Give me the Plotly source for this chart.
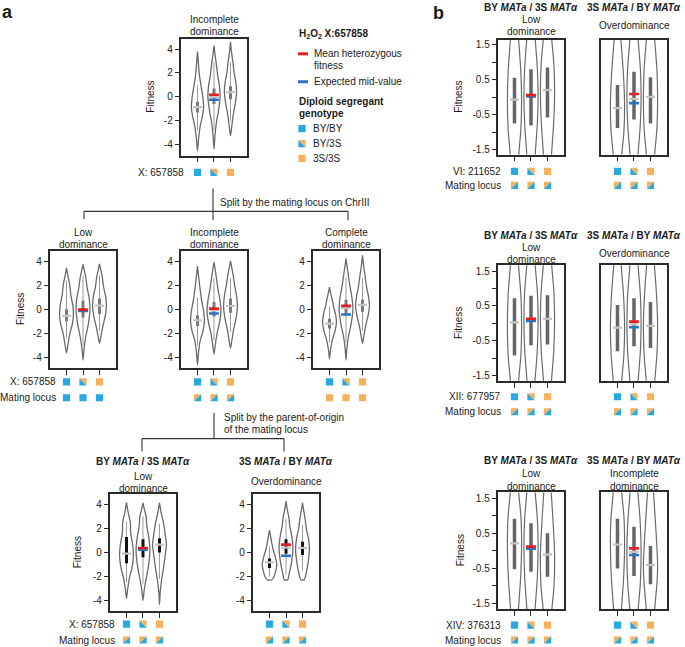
import plotly.graph_objects as go

W, H = 685, 647
FONT = "Liberation Sans, Arial, Helvetica, sans-serif"

genotypes = ["BY/BY", "BY/3S", "3S/3S"]
cats = [1, 2, 3]

PANELS = ["a_top", "a_low", "a_inc", "a_comp", "a_bmat", "a_3smat",
          "b6_l", "b6_r", "b12_l", "b12_r", "b14_l", "b14_r"]

# ---- violin outline profiles (fitness level, relative density width) ----
prof_y = {
    "a_top": [[-4.5, -3.5, -2.5, -1.6, -0.9, -0.2, 0.8, 1.8, 2.8, 3.8],
              [-4.35, -3.3, -2.2, -1.1, 0.0, 0.9, 1.8, 2.6, 3.5, 4.3],
              [-3.25, -2.5, -1.5, -0.5, 0.4, 1.2, 2.0, 2.8, 3.7, 4.6]],
    "a_low": [[-3.65, -3.0, -2.0, -1.2, -0.5, 0.3, 1.2, 2.1, 2.8, 3.45],
              [-4.25, -3.3, -2.3, -1.2, -0.1, 0.9, 1.8, 2.6, 3.2, 3.75],
              [-2.85, -2.2, -1.4, -0.5, 0.3, 1.1, 1.9, 2.7, 3.3, 3.8]],
    "a_inc": [[-4.65, -3.6, -2.6, -1.8, -1.0, -0.2, 0.8, 1.8, 2.8, 3.6],
              [-3.75, -3.0, -2.0, -1.1, -0.2, 0.7, 1.6, 2.4, 3.3, 3.95],
              [-3.25, -2.6, -1.7, -0.7, 0.25, 1.1, 2.0, 2.8, 3.5, 4.05]],
    "a_comp": [[-4.15, -3.4, -2.6, -1.8, -1.1, -0.5, 0.2, 0.9, 1.4, 1.85],
               [-4.25, -3.3, -2.3, -1.2, 0.0, 1.0, 2.0, 2.8, 3.6, 4.25],
               [-2.85, -2.2, -1.4, -0.5, 0.3, 1.1, 2.0, 2.9, 3.7, 4.5]],
    "a_bmat": [[-3.85, -3.0, -2.2, -1.2, -0.2, 0.8, 1.6, 2.5, 3.4, 4.2],
               [-4.0, -3.1, -2.2, -1.1, 0.3, 1.3, 2.2, 3.0, 3.6, 4.15],
               [-4.35, -3.3, -2.3, -1.2, 0.0, 0.7, 1.6, 2.4, 3.3, 4.15]],
    "a_3smat": [[-2.3, -2.3, -2.0, -1.5, -1.0, -0.4, 0.2, 0.8, 1.4, 1.87],
                [-2.3, -2.3, -1.8, -0.8, 0.4, 1.3, 2.2, 2.9, 3.6, 4.3],
                [-2.3, -2.3, -1.8, -0.8, 0.3, 1.2, 2.0, 2.7, 3.5, 4.15]],
    "b6_l": [[-2.4, -1.6, -0.9, -0.1, 0.7, 1.6, 2.4],
             [-2.4, -1.6, -0.8, 0.0, 0.8, 1.6, 2.4],
             [-2.4, -1.6, -0.7, 0.2, 1.0, 1.6, 2.4]],
    "b6_r": [[-2.4, -1.6, -1.0, -0.3, 0.5, 1.6, 2.4],
             [-2.4, -1.6, -0.8, 0.0, 0.8, 1.6, 2.4],
             [-2.4, -1.6, -0.9, 0.0, 0.8, 1.6, 2.4]],
    "b12_l": [[-2.4, -1.6, -0.9, 0.0, 0.8, 1.6, 2.4],
              [-2.4, -1.6, -0.8, 0.1, 0.9, 1.6, 2.4],
              [-2.4, -1.6, -0.8, 0.1, 0.9, 1.6, 2.4]],
    "b12_r": [[-2.4, -1.6, -0.9, -0.1, 0.7, 1.6, 2.4],
              [-2.4, -1.6, -0.8, 0.0, 0.8, 1.6, 2.4],
              [-2.4, -1.6, -0.9, -0.1, 0.7, 1.6, 2.4]],
    "b14_l": [[-2.4, -1.6, -0.7, 0.2, 1.0, 1.6, 2.4],
              [-2.4, -1.6, -0.8, 0.1, 0.9, 1.6, 2.4],
              [-2.4, -1.6, -1.0, -0.1, 0.6, 1.6, 2.4]],
    "b14_r": [[-2.4, -1.6, -0.7, 0.2, 1.0, 1.6, 2.4],
              [-2.4, -1.6, -0.9, 0.0, 0.8, 1.6, 2.4],
              [-2.4, -1.6, -0.9, -0.4, 0.3, 1.6, 2.4]],
}
prof_w = {
    "a_top": [[0, 0.18, 0.42, 0.8, 1.0, 0.92, 0.62, 0.32, 0.15, 0],
              [0, 0.15, 0.38, 0.75, 1.0, 0.9, 0.6, 0.42, 0.18, 0],
              [0, 0.2, 0.45, 0.8, 1.0, 0.88, 0.6, 0.42, 0.18, 0]],
    "a_low": [[0, 0.2, 0.5, 0.85, 1.0, 0.92, 0.62, 0.45, 0.2, 0],
              [0, 0.15, 0.4, 0.78, 1.0, 0.9, 0.6, 0.42, 0.2, 0],
              [0, 0.22, 0.5, 0.85, 1.0, 0.88, 0.58, 0.4, 0.18, 0]],
    "a_inc": [[0, 0.15, 0.4, 0.8, 1.0, 0.9, 0.58, 0.35, 0.15, 0],
              [0, 0.18, 0.45, 0.8, 1.0, 0.88, 0.6, 0.4, 0.18, 0],
              [0, 0.2, 0.45, 0.82, 1.0, 0.88, 0.6, 0.4, 0.18, 0]],
    "a_comp": [[0, 0.15, 0.4, 0.8, 1.0, 0.9, 0.6, 0.35, 0.15, 0],
               [0, 0.12, 0.35, 0.75, 1.0, 0.85, 0.55, 0.35, 0.15, 0],
               [0, 0.2, 0.45, 0.82, 1.0, 0.85, 0.55, 0.35, 0.15, 0]],
    "a_bmat": [[0, 0.18, 0.4, 0.82, 1.0, 0.85, 0.6, 0.55, 0.22, 0],
               [0, 0.18, 0.45, 0.8, 1.0, 0.82, 0.55, 0.45, 0.2, 0],
               [0, 0.1, 0.3, 0.6, 0.88, 1.0, 0.8, 0.6, 0.25, 0]],
    "a_3smat": [[0, 0.3, 0.65, 0.92, 1.05, 0.85, 0.55, 0.32, 0.15, 0],
                [0, 0.25, 0.45, 0.8, 1.0, 0.85, 0.55, 0.42, 0.18, 0],
                [0, 0.25, 0.5, 0.82, 1.0, 0.85, 0.55, 0.4, 0.18, 0]],
    "b6_l": [[0.35, 0.62, 0.9, 1.0, 0.9, 0.6, 0.35],
             [0.35, 0.6, 0.88, 1.0, 0.9, 0.62, 0.35],
             [0.32, 0.58, 0.88, 1.0, 0.88, 0.62, 0.35]],
    "b6_r": [[0.35, 0.62, 0.9, 1.0, 0.88, 0.5, 0.25],
             [0.32, 0.58, 0.88, 1.0, 0.9, 0.6, 0.32],
             [0.3, 0.6, 0.9, 1.0, 0.9, 0.6, 0.3]],
    "b12_l": [[0.32, 0.6, 0.9, 1.0, 0.9, 0.6, 0.32],
              [0.32, 0.58, 0.88, 1.0, 0.9, 0.62, 0.35],
              [0.32, 0.58, 0.88, 1.0, 0.9, 0.62, 0.35]],
    "b12_r": [[0.35, 0.62, 0.9, 1.0, 0.88, 0.55, 0.28],
              [0.32, 0.6, 0.9, 1.0, 0.9, 0.6, 0.32],
              [0.35, 0.62, 0.9, 1.0, 0.88, 0.58, 0.3]],
    "b14_l": [[0.3, 0.58, 0.88, 1.0, 0.9, 0.62, 0.35],
              [0.32, 0.6, 0.88, 1.0, 0.9, 0.62, 0.33],
              [0.35, 0.65, 0.92, 1.0, 0.85, 0.55, 0.28]],
    "b14_r": [[0.3, 0.58, 0.88, 1.0, 0.9, 0.62, 0.35],
              [0.33, 0.62, 0.9, 1.0, 0.88, 0.58, 0.3],
              [0.35, 0.62, 0.92, 1.0, 0.85, 0.45, 0.25]],
}

# ---- summary statistics (per genotype) ----
box_lo = {"a_top": [-1.3, -0.6, -0.2], "a_low": [-1.0, -0.7, -0.4],
          "a_inc": [-1.4, -0.6, -0.3], "a_comp": [-1.6, -0.5, -0.2],
          "a_bmat": [-0.9, -0.4, 0.0], "a_3smat": [-1.3, -0.1, -0.2],
          "b6_l": [-0.75, -0.81, -0.58], "b6_r": [-0.88, -0.64, -0.75],
          "b12_l": [-0.92, -0.63, -0.61], "b12_r": [-0.8, -0.66, -0.71],
          "b14_l": [-0.53, -0.6, -0.74], "b14_r": [-0.51, -0.72, -0.96]}
box_hi = {"a_top": [-0.4, 0.7, 0.9], "a_low": [0.0, 0.7, 0.9],
          "a_inc": [-0.5, 0.6, 0.9], "a_comp": [-0.8, 0.8, 0.8],
          "a_bmat": [1.3, 1.1, 1.2], "a_3smat": [-0.5, 1.1, 0.9],
          "b6_l": [0.56, 0.8, 0.85], "b6_r": [0.35, 0.73, 0.57],
          "b12_l": [0.72, 0.79, 0.81], "b12_r": [0.53, 0.72, 0.61],
          "b14_l": [0.92, 0.79, 0.5], "b14_r": [0.92, 0.69, 0.14]}
whisk_lo = {"a_top": [-2.8, -2.8, -2.0], "a_low": [-2.4, -3.0, -1.8],
            "a_inc": [-3.0, -2.6, -1.9], "a_comp": [-2.8, -2.8, -1.8],
            "a_bmat": [-2.5, -2.6, -2.2], "a_3smat": [-2.0, -1.8, -1.5]}
whisk_hi = {"a_top": [1.0, 2.9, 2.9], "a_low": [2.4, 2.8, 2.8],
            "a_inc": [1.0, 2.6, 2.6], "a_comp": [0.2, 2.7, 2.6],
            "a_bmat": [2.6, 3.0, 2.4], "a_3smat": [0.5, 2.8, 2.3]}
median_fit = {"a_top": [-0.86, 0.0, 0.4], "a_low": [-0.56, -0.1, 0.3],
              "a_inc": [-0.92, -0.1, 0.27], "a_comp": [-1.2, 0.1, 0.36],
              "a_bmat": [-0.1, 0.3, 0.66], "a_3smat": [-0.83, 0.4, 0.38],
              "b6_l": [-0.07, 0.04, 0.2], "b6_r": [-0.31, -0.05, 0.01],
              "b12_l": [0.03, 0.1, 0.13], "b12_r": [-0.12, -0.03, -0.07],
              "b14_l": [0.21, 0.09, -0.11], "b14_r": [0.18, -0.03, -0.41]}
het_mean = {"a_top": 0.18, "a_low": -0.03, "a_inc": 0.05, "a_comp": 0.28,
            "a_bmat": 0.38, "a_3smat": 0.66, "b6_l": 0.06, "b6_r": 0.09,
            "b12_l": 0.13, "b12_r": 0.05, "b14_l": 0.12, "b14_r": 0.07}
mid_value = {"a_top": -0.24, "a_low": -0.15, "a_inc": -0.36, "a_comp": -0.44,
             "a_bmat": 0.24, "a_3smat": -0.27, "b6_l": 0.02, "b6_r": -0.17,
             "b12_l": 0.07, "b12_r": -0.11, "b14_l": 0.06, "b14_r": -0.12}

a_ticks = [4, 2, 0, -2, -4]
a_ticktext = ["4", "2", "0", "-2", "-4"]
b_ticks = [1.5, 0.5, -0.5, -1.5]
b_ticktext = ["1.5", "0.5", "-0.5", "-1.5"]
b_minor_ticks = [1.0, 0.0, -1.0]

# genotype icon rows below each panel
locus_icons = ["BY", "HET", "3S"]
mating_icons = {"a_low": ["BY", "BY", "BY"], "a_inc": ["MAT"] * 3,
                "a_comp": ["3S", "3S", "3S"], "a_bmat": ["MAT"] * 3,
                "a_3smat": ["MAT"] * 3, "b6_l": ["MAT"] * 3, "b6_r": ["MAT"] * 3,
                "b12_l": ["MAT"] * 3, "b12_r": ["MAT"] * 3,
                "b14_l": ["MAT"] * 3, "b14_r": ["MAT"] * 3}

# ---------------- layout geometry (pixels) ----------------
GEOM = {"a_top": (214, 38, 155), "a_low": (83, 251, 368), "a_inc": (214, 251, 368),
        "a_comp": (346, 251, 368), "a_bmat": (143, 495, 612), "a_3smat": (286, 495, 612),
        "b6_l": (531, 39, 154), "b6_r": (634, 39, 154),
        "b12_l": (531, 265, 381), "b12_r": (634, 265, 381),
        "b14_l": (531, 493, 610), "b14_r": (634, 493, 610)}
YR = {"a": [-4.9, 4.85], "b6": [-1.64, 1.64], "b12": [-1.65, 1.67], "b14": [-1.67, 1.67]}
UNIT = 16.5
XR = [0.03, 3.97]
VW = {"a_top": 0.37}
ICON_Y1 = {"a_top": 172, "a_low": 382, "a_inc": 382, "a_comp": 382, "a_bmat": 625,
           "a_3smat": 625, "b6_l": 171, "b6_r": 171, "b12_l": 397, "b12_r": 397,
           "b14_l": 626, "b14_r": 626}
ICON_Y2 = {"a_low": 398, "a_inc": 398, "a_comp": 398, "a_bmat": 641, "a_3smat": 641,
           "b6_l": 185, "b6_r": 185, "b12_l": 412, "b12_r": 412, "b14_l": 641, "b14_r": 641}

BLUE_I = "#27A8E0"
ORANGE_I = "#F7B05B"
RED = "#E31E25"
BLUE = "#2B72C2"
OUT = "#6a6a6a"
FS = 10


def xd(px):
    return px / W


def yd(py):
    return 1 - py / H


fig = go.Figure()
layout = dict(width=W, height=H, margin=dict(l=0, r=0, t=0, b=0),
              paper_bgcolor="white", plot_bgcolor="white", showlegend=False,
              font=dict(family=FONT, size=FS, color="#222"))
shapes = []
annotations = []


def txt(s, x, y, anchor="center", size=FS, bold=False):
    annotations.append(dict(text=("<b>%s</b>" % s) if bold else s, x=xd(x), y=yd(y),
                            xref="paper", yref="paper", xanchor=anchor, yanchor="middle",
                            showarrow=False, font=dict(family=FONT, size=size, color="#1a1a1a")))


def icon(kind, xref, xanchor, ypx, s=3.6):
    base = dict(xref=xref, xsizemode="pixel", xanchor=xanchor, yref="paper",
                ysizemode="pixel", yanchor=yd(ypx), line=dict(width=0), layer="above")
    if kind in ("BY", "3S"):
        c = BLUE_I if kind == "BY" else ORANGE_I
        shapes.append(dict(base, type="path", fillcolor=c,
                           path="M%.1f,%.1f L%.1f,%.1f L%.1f,%.1f L%.1f,%.1f Z" % (-s, -s, s, -s, s, s, -s, s)))
    elif kind == "HET":
        shapes.append(dict(base, type="path", fillcolor=BLUE_I,
                           path="M%.1f,%.1f L%.1f,%.1f L%.1f,%.1f Z" % (-s, -s, s, -s, -s, s)))
        shapes.append(dict(base, type="path", fillcolor=ORANGE_I,
                           path="M%.1f,%.1f L%.1f,%.1f L%.1f,%.1f Z" % (s, s, -s, s, s, -s)))
    else:  # mating locus heterozygote
        shapes.append(dict(base, type="path", fillcolor=ORANGE_I,
                           path="M%.1f,%.1f L%.1f,%.1f L%.1f,%.1f Z" % (-s, s, s, s, -s, -s)))
        shapes.append(dict(base, type="path", fillcolor=BLUE_I,
                           path="M%.1f,%.1f L%.1f,%.1f L%.1f,%.1f Z" % (s, -s, -s, -s, s, s)))


for i, p in enumerate(PANELS):
    n = i + 1
    xa = "xaxis" if n == 1 else "xaxis%d" % n
    ya = "yaxis" if n == 1 else "yaxis%d" % n
    xr = "x" if n == 1 else "x%d" % n
    yr = "y" if n == 1 else "y%d" % n
    cx, top, bot = GEOM[p]
    half = (XR[1] - XR[0]) / 2 * UNIT
    isb = p.startswith("b")
    yrange = YR["a"] if not isb else YR[p.split("_")[0]]
    layout[xa] = dict(domain=[xd(cx - half), xd(cx + half)], range=XR, anchor=yr,
                      showline=True, mirror=True, linecolor="#2a2a2a", linewidth=1.5,
                      ticks="outside", ticklen=5, tickwidth=1, tickcolor="#2a2a2a",
                      tickvals=cats, showticklabels=False, showgrid=False, zeroline=False,
                      fixedrange=True)
    right_b = isb and p.endswith("_r")
    yax = dict(domain=[yd(bot), yd(top)], range=yrange, anchor=xr,
               showline=True, mirror=True, linecolor="#2a2a2a", linewidth=1.5,
               ticks="" if right_b else "outside", ticklen=5, tickwidth=1,
               tickcolor="#2a2a2a",
               tickvals=b_ticks if isb else a_ticks,
               ticktext=b_ticktext if isb else a_ticktext,
               showticklabels=not right_b, tickfont=dict(size=FS, color="#222"),
               showgrid=False, zeroline=False, fixedrange=True)
    if isb and not right_b:
        yax["minor"] = dict(tickvals=b_minor_ticks, ticks="outside", ticklen=5,
                            tickwidth=1, tickcolor="#2a2a2a", showgrid=False)
    layout[ya] = yax

    maxw = 0.43 if isb else VW.get(p, 0.42)
    for k in range(3):
        c = cats[k]
        ys = prof_y[p][k]
        ws = prof_w[p][k]
        xs_r = [c + w * maxw for w in ws]
        xs_l = [c - w * maxw for w in ws]
        if isb:
            for xs in (xs_r, xs_l):
                fig.add_trace(go.Scatter(x=xs, y=ys, mode="lines", xaxis=xr, yaxis=yr,
                                         line=dict(color=OUT, width=1.2, shape="spline", smoothing=0.8),
                                         hoverinfo="skip"))
        else:
            fig.add_trace(go.Scatter(x=xs_r + xs_l[::-1], y=ys + ys[::-1], mode="lines",
                                     xaxis=xr, yaxis=yr,
                                     line=dict(color=OUT, width=1.3, shape="spline", smoothing=0.7),
                                     hoverinfo="skip"))
            fig.add_trace(go.Scatter(x=[c, c], y=[whisk_lo[p][k], whisk_hi[p][k]], mode="lines",
                                     xaxis=xr, yaxis=yr, line=dict(color="#9a9a9a", width=1),
                                     hoverinfo="skip"))
        boxcol = "#111111" if p in ("a_bmat", "a_3smat") else ("#666666" if isb else "#7a7a7a")
        fig.add_trace(go.Scatter(x=[c, c], y=[box_lo[p][k], box_hi[p][k]], mode="lines",
                                 xaxis=xr, yaxis=yr, line=dict(color=boxcol, width=3.5 if isb else 3),
                                 hoverinfo="skip"))
        fig.add_trace(go.Scatter(x=[c - 0.28, c + 0.28], y=[median_fit[p][k]] * 2, mode="lines",
                                 xaxis=xr, yaxis=yr, line=dict(color="#c4c4c4", width=2.2),
                                 hoverinfo="skip"))
    fig.add_trace(go.Scatter(x=[1.7, 2.3], y=[mid_value[p]] * 2, mode="lines", xaxis=xr, yaxis=yr,
                             line=dict(color=BLUE, width=2.6), hoverinfo="skip"))
    fig.add_trace(go.Scatter(x=[1.7, 2.3], y=[het_mean[p]] * 2, mode="lines", xaxis=xr, yaxis=yr,
                             line=dict(color=RED, width=2.6), hoverinfo="skip"))

    for k in range(3):
        icon(locus_icons[k], xr, cats[k], ICON_Y1[p])
        if p in mating_icons:
            icon(mating_icons[p][k], xr, cats[k], ICON_Y2[p])

# ---------------- text ----------------
txt("a", 8, 11, size=18, bold=True)
txt("b", 438, 12, size=18, bold=True)

txt("Incomplete", 214, 19)
txt("dominance", 214, 31)
txt("X: 657858", 186, 172, anchor="right")

# legend
txt("H<sub>2</sub>O<sub>2</sub> X:657858", 297, 33, anchor="left", size=10, bold=True)
shapes.append(dict(type="rect", xref="paper", yref="paper", x0=xd(298), x1=xd(308),
                   y0=yd(54.5), y1=yd(51.5), fillcolor=RED, line=dict(width=0)))
txt("Mean heterozygous", 312, 53, anchor="left")
txt("fitness", 312, 65, anchor="left")
shapes.append(dict(type="rect", xref="paper", yref="paper", x0=xd(298), x1=xd(308),
                   y0=yd(82.5), y1=yd(79.5), fillcolor=BLUE, line=dict(width=0)))
txt("Expected mid-value", 312, 81, anchor="left")
txt("Diploid segregant", 297, 101, anchor="left", size=10, bold=True)
txt("genotype", 297, 113, anchor="left", size=10, bold=True)
for kind, lab, yy in zip(locus_icons, genotypes, [128, 143, 158]):
    icon(kind, "paper", xd(302), yy)
    txt(lab, 311, yy, anchor="left")

line_style = dict(color="#333", width=1.1)
for (x0, y0, x1, y1) in [(213, 188, 213, 220), (84, 211, 348, 211), (84, 211, 84, 219),
                         (348, 211, 348, 220)]:
    shapes.append(dict(type="line", xref="paper", yref="paper", x0=xd(x0), y0=yd(y0),
                       x1=xd(x1), y1=yd(y1), line=line_style))
txt("Split by the mating locus on ChrIII", 218, 202, anchor="left")

for x, l1 in [(83, "Low"), (214, "Incomplete"), (346, "Complete")]:
    txt(l1, x, 232)
    txt("dominance", x, 244)
txt("X: 657858", 58, 382, anchor="right")
txt("Mating locus", 58, 398, anchor="right")

for (x0, y0, x1, y1) in [(214, 413, 214, 439), (142, 439, 284, 439), (142, 439, 142, 452),
                         (284, 439, 284, 452)]:
    shapes.append(dict(type="line", xref="paper", yref="paper", x0=xd(x0), y0=yd(y0),
                       x1=xd(x1), y1=yd(y1), line=line_style))
txt("Split by the parent-of-origin", 222, 418, anchor="left")
txt("of the mating locus", 222, 430, anchor="left")

T1 = "BY <i>MATa</i> / 3S <i>MATα</i>"
T2 = "3S <i>MATa</i> / BY <i>MATα</i>"
txt(T1, 143, 462, size=10, bold=True)
txt("Low", 143, 477)
txt("dominance", 143, 489)
txt(T2, 286, 462, size=10, bold=True)
txt("Overdominance", 286, 482)
txt("X: 657858", 117, 625, anchor="right")
txt("Mating locus", 117, 641, anchor="right")

for ty, l1, l2, r1, r2, lab, ly1, ly2 in [
        (7, 19, 31, "Overdominance", None, "VI: 211652", 171, 185),
        (235, 247, 259, "Overdominance", None, "XII: 677957", 397, 412),
        (461, 474, 487, "Incomplete", "dominance", "XIV: 376313", 626, 641)]:
    txt(T1, 531, ty, size=10, bold=True)
    txt(T2, 634, ty, size=10, bold=True)
    txt("Low", 531, l1)
    txt("dominance", 531, l2)
    if r2 is None:
        txt(r1, 634, (l1 + l2) / 2)
    else:
        txt(r1, 634, l1)
        txt(r2, 634, l2)
    txt(lab, 503, ly1, anchor="right")
    txt("Mating locus", 503, ly2, anchor="right")

for x, y in [(151, 96), (20, 309), (77, 553), (459, 96), (458, 323), (460, 551)]:
    annotations.append(dict(text="Fitness", x=xd(x), y=yd(y), xref="paper", yref="paper",
                            xanchor="center", yanchor="middle", textangle=-90, showarrow=False,
                            font=dict(family=FONT, size=FS, color="#1a1a1a")))

layout["shapes"] = shapes
layout["annotations"] = annotations
fig.update_layout(**layout)
fig.write_html("out.html", config={"displayModeBar": False},
               post_script="document.body.style.margin='0';document.body.style.overflow='hidden';")
